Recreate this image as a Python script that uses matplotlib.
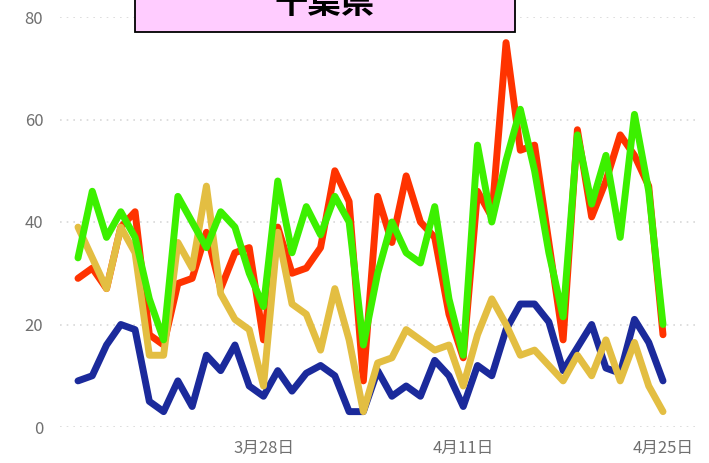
import matplotlib
matplotlib.use("Agg")
import matplotlib.pyplot as plt
import matplotlib.patches as mpatches
import numpy as np
import pandas as pd

plt.rcParams['font.family'] = ['Noto Sans CJK JP', 'DejaVu Sans']

dates = pd.date_range("2020-03-15", "2020-04-25", freq="D")
blue = [9, 10, 16, 20, 19, 5, 3, 9, 4, 14, 11, 16, 8, 6, 11, 7, 10.5, 12, 10, 3,
        3, 11, 6, 8, 6, 13, 10, 4, 12, 10, 19, 24, 24, 20.5, 11, 15.5, 20, 11.5, 10.5, 21,
        16.5, 9]
yellow = [39, 33, 27, 39, 34, 14, 14, 36, 31, 47, 26, 21, 19, 8, 38, 24, 22, 15, 27, 17,
          3, 12.5, 13.5, 19, 17, 15, 16, 8, 18, 25, 20, 14, 15, 12, 9, 14, 10, 17, 9, 16.5,
          8, 3]
red = [29, 31, 27, 39, 42, 18, 16, 28, 29, 38, 27, 34, 35, 17, 39, 30, 31, 35, 50, 44,
       9, 45, 36, 49, 40, 37, 22, 13.5, 46, 41, 75, 54, 55, 36, 17, 58, 41, 48, 57, 53,
       47, 18]
green = [33, 46, 37, 42, 37, 25, 17, 45, 40, 35, 42, 39, 30, 23.5, 48, 34, 43, 37.5, 45, 40,
         16, 30, 40, 34, 32, 43, 25, 14, 55, 40, 52, 62, 50, 34, 21.5, 57, 43.5, 53, 37, 61,
         46, 20]
yticks = [0, 20, 40, 60, 80]
xtick_dates = ["2020-03-28", "2020-04-11", "2020-04-25"]
xtick_labels = ["3月28日", "4月11日", "4月25日"]
title = "千葉県"

W, H = 709, 463
fig = plt.figure(figsize=(W / 100, H / 100), dpi=100)
ax = fig.add_axes([60 / W, (H - 427) / H, 640 / W, 410 / H])

x = np.arange(len(dates))
lw = 5
ax.plot(x, blue, color="#1B2A9B", lw=lw, solid_joinstyle="round", solid_capstyle="round", zorder=3, clip_on=False)
ax.plot(x, red, color="#FF3300", lw=lw, solid_joinstyle="round", solid_capstyle="round", zorder=4, clip_on=False)
ax.plot(x, yellow, color="#E3BE42", lw=lw, solid_joinstyle="round", solid_capstyle="round", zorder=5, clip_on=False)
ax.plot(x, green, color="#3CF000", lw=lw, solid_joinstyle="round", solid_capstyle="round", zorder=6, clip_on=False)

px_per_day = 14.27
ax.set_xlim(-18 / px_per_day, 41 + 37 / px_per_day)
ax.set_ylim(0, 80)

ax.set_yticks(yticks)
ax.set_yticklabels([str(v) for v in yticks])
pos = [list(dates).index(pd.Timestamp(d)) for d in xtick_dates]
ax.set_xticks(pos)
ax.set_xticklabels(xtick_labels)
ax.tick_params(axis="both", length=0, labelcolor="#707070", labelsize=12)
ax.tick_params(axis="y", pad=12)
ax.tick_params(axis="x", pad=9)
for s in ax.spines.values():
    s.set_visible(False)
ax.grid(axis="y", color="#D8D8D8", linestyle=(0, (1, 3)), lw=1.2)
ax.set_axisbelow(True)

rect = mpatches.Rectangle((135 / W, (H - 32) / H), 380 / W, 0.2,
                          transform=fig.transFigure, facecolor="#FFCCFF",
                          edgecolor="black", lw=1.3, zorder=10)
fig.add_artist(rect)
fig.text(325 / W, (H - 13) / H, title, ha="center", va="baseline", fontsize=24,
         fontweight="bold", color="black", zorder=11)

fig.savefig("out.png", dpi=100)
